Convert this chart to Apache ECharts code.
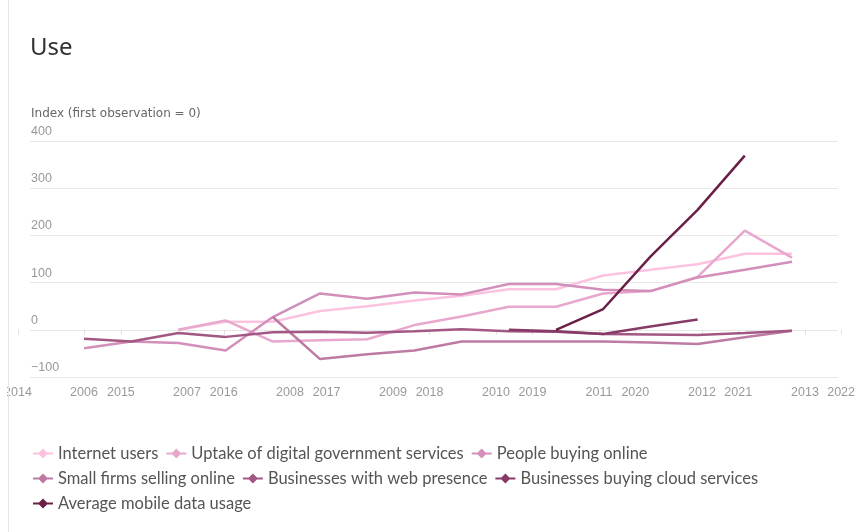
<!DOCTYPE html>
<html>
<head>
<meta charset="utf-8">
<script src="https://cdn.jsdelivr.net/npm/echarts@6/dist/echarts.min.js"></script>
<style>
  html, body { margin: 0; padding: 0; background: #fff; }
  #chart { width: 858px; height: 532px; }
</style>
</head>
<body>
<div id="chart"></div>
<script>
// data years (hidden axis), one point per year
const years = ['2006','2007','2008','2009','2010','2011','2012','2013','2014','2015','2016','2017','2018','2019','2020','2021']
// the two label rows printed under the plot
const ticksLow = [2006, 2013]
const ticksHigh = [2014, 2022]

const seriesNames = [
  'Internet users',
  'Uptake of digital government services',
  'People buying online',
  'Small firms selling online',
  'Businesses with web presence',
  'Businesses buying cloud services',
  'Average mobile data usage'
]
const internetUsers = [null, null, 0, 17, 17, 40, 50, 62, 72, 86, 86, 115, 127, 139, 161, 161]
const govServices   = [null, null, 0, 20, -25, -22, -20, 10, 28, 49, 49, 77, 82, 112, 210, 153]
const buyingOnline  = [-39, -25, -28, -44, 27, 77, 66, 79, 75, 97, 97, 85, 82, 111, 127, 144]
const firmsSelling  = [null, null, null, null, 27, -62, -52, -44, -25, -25, -25, -25, -27, -30, -16, -2]
const webPresence   = [-19, -25, -7, -15, -5, -4, -6, -3, 1, -3, -4, -9, -10, -11, -7, -2]
const cloudServices = [null, null, null, null, null, null, null, null, null, 0, -3, -9, 7, 22, null, null]
const mobileData    = [null, null, null, null, null, null, null, null, null, null, 0, 44, 155, 254, 369, null]

const values = [internetUsers, govServices, buyingOnline, firmsSelling, webPresence, cloudServices, mobileData]
const colors = ['#fbc3e0', '#e8a7cc', '#d28fba', '#bd7aa3', '#a25883', '#863b66', '#6a1f46']

const TOP = 141, BOTTOM = 155
const axisFont = { color: '#999', fontSize: 12.5, fontFamily: 'Liberation Sans, Arial, sans-serif' }
const legendIcon = 'path://M0,4 L6,4 L10,0 L14,4 L20,4 L20,6 L14,6 L10,10 L6,6 L0,6 Z'

const chart = echarts.init(document.getElementById('chart'), null, { renderer: 'canvas' })

const yHidden = gi => ({ type: 'value', gridIndex: gi, min: -100, max: 400, show: false })
const yearAxis = (gi, range) => ({
  type: 'value', gridIndex: gi, min: range[0], max: range[1], interval: 1,
  axisLine: { show: false },
  axisTick: { show: true, length: 5, lineStyle: { color: '#e0e0e0' } },
  axisLabel: { ...axisFont, margin: 9, formatter: v => String(v) },
  splitLine: { show: false }
})

chart.setOption({
  backgroundColor: '#fff',
  animation: false,
  title: [
    { text: 'Use', left: 25, top: 31, textStyle: { fontSize: 24, fontWeight: 'normal', color: '#333', fontFamily: 'Noto Sans, sans-serif' } },
    { text: 'Index (first observation = 0)', left: 26, top: 103, textStyle: { fontSize: 12, fontWeight: 'normal', color: '#666', fontFamily: 'DejaVu Sans, sans-serif' } }
  ],
  grid: [
    { left: 84, right: 66, top: TOP, bottom: BOTTOM },   // data
    { left: 84, right: 53, top: TOP, bottom: BOTTOM },   // 2006-2013 labels
    { left: 18, right: 15, top: TOP, bottom: BOTTOM },   // 2014-2022 labels
    { left: 30, right: 20, top: TOP, bottom: BOTTOM }    // gridlines + y labels
  ],
  xAxis: [
    { type: 'category', gridIndex: 0, data: years, boundaryGap: false, show: false },
    yearAxis(1, ticksLow),
    yearAxis(2, ticksHigh),
    { type: 'value', gridIndex: 3, show: false }
  ],
  yAxis: [
    yHidden(0), yHidden(1), yHidden(2),
    {
      type: 'value', gridIndex: 3, min: -100, max: 400, interval: 100,
      axisLine: { show: false }, axisTick: { show: false },
      axisLabel: {
        ...axisFont, inside: true, margin: 1, verticalAlign: 'bottom', padding: [0, 0, 3, 0],
        formatter: v => v < 0 ? '\u2212' + (-v) : String(v)
      },
      splitLine: { lineStyle: { color: '#e8e8e8', width: 1 } }
    }
  ],
  legend: {
    left: 28, top: 440,
    itemWidth: 20, itemHeight: 10, itemGap: 8,
    icon: legendIcon,
    textStyle: { color: '#555', fontSize: 16.5, fontFamily: 'Lato, sans-serif' },
    data: [seriesNames[0], seriesNames[1], seriesNames[2], '\n', seriesNames[3], seriesNames[4], seriesNames[5], '\n', seriesNames[6]]
  },
  graphic: [
    { type: 'rect', left: 0, top: 0, shape: { width: 7, height: 532 }, style: { fill: '#fff' }, z: 100 },
    { type: 'line', shape: { x1: 8.5, y1: 0, x2: 8.5, y2: 532 }, style: { stroke: '#e6e6e6', lineWidth: 1 }, z: 100 }
  ],
  series: values.map((d, i) => ({
    name: seriesNames[i], type: 'line', xAxisIndex: 0, yAxisIndex: 0,
    data: d, showSymbol: false, symbol: 'circle', connectNulls: false,
    color: colors[i],
    lineStyle: { color: colors[i], width: 2.5 }
  }))
})
</script>
</body>
</html>
